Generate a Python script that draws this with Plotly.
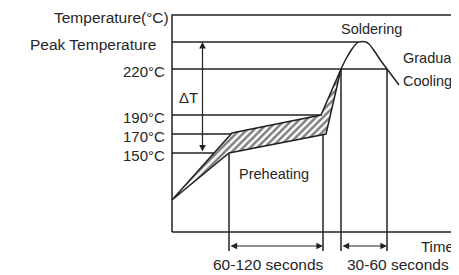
import plotly.graph_objects as go

# ---------------- data (schematic diagram units) ----------------
# x: schematic time, y: schematic temperature height; box spans 0..283 x 0..217
box_w, box_h = 283, 217

level_labels = ["150°C", "170°C", "190°C", "220°C", "Peak Temperature"]
level_y = [79, 98, 117, 163, 190]
level_x_end = [57, 60, 150, 215, 186]

# preheating band (upper / lower limit curves)
upper_x = [0, 60, 149, 169]
upper_y = [32, 99, 117, 163]
lower_x = [0, 57, 154, 169]
lower_y = [32, 79, 98, 163]

# soldering peak and gradual cooling
peak_x = [169, 174, 180, 185, 187, 194, 197, 203, 209, 215, 221, 227]
peak_y = [163, 173, 183, 189, 190, 190, 188, 180, 171, 163, 155, 147]

# time markers
mark_x = [57, 151, 169, 215]
mark_top = [79, 98, 163, 163]
mark_bottom = -19
span_y = -14
span_start = [57, 169]
span_end = [151, 215]
span_labels = ["60-120 seconds", "30-60 seconds"]
span_label_x = [96, 225.5]

# delta T arrow
dt_x = 30.5
dt_top, dt_bottom = 190, 79

LC = "#222222"
TC = "#262626"
FONT = "Liberation Sans, Arial, sans-serif"
LW = 1.5

fig = go.Figure()

def line(xs, ys, w=LW, shape="linear"):
    fig.add_trace(go.Scatter(x=xs, y=ys, mode="lines",
                             line=dict(color=LC, width=w, shape=shape),
                             hoverinfo="skip", showlegend=False))

# box
line([0, box_w, box_w, 0, 0], [0, 0, box_h, box_h, 0])

# level lines
for yv, xe in zip(level_y, level_x_end):
    line([0, xe], [yv, yv])

# time marker verticals
for xv, yt in zip(mark_x, mark_top):
    line([xv, xv], [mark_bottom, yt])

# hatched preheating band
band_x = upper_x + lower_x[::-1]
band_y = upper_y + lower_y[::-1]
fig.add_trace(go.Scatter(x=band_x, y=band_y, mode="lines", fill="toself",
                         fillcolor="white",
                         fillpattern=dict(shape="/", fgcolor="#000000", bgcolor="white",
                                          size=5, solidity=0.5),
                         line=dict(color=LC, width=LW),
                         hoverinfo="skip", showlegend=False))

# peak / cooling
line(peak_x, peak_y, shape="spline")

annos = []
def arrow(x0, y0, x1, y1):
    annos.append(dict(x=x1, y=y1, ax=x0, ay=y0, xref="x", yref="y", axref="x", ayref="y",
                      text="", showarrow=True, arrowhead=2, startarrowhead=2,
                      arrowside="end+start", arrowsize=1.1, arrowwidth=1.2,
                      arrowcolor=LC))

arrow(dt_x, dt_bottom, dt_x, dt_top)
for s, e in zip(span_start, span_end):
    arrow(s, span_y, e, span_y)

def text(t, x, y, xanchor="center", size=14.5):
    annos.append(dict(x=x, y=y, xref="x", yref="y", text=t, showarrow=False,
                      xanchor=xanchor, yanchor="middle", borderpad=0,
                      font=dict(family=FONT, size=size, color=TC)))

text("Temperature(°C)", -2, 215, "right", size=15.5)
for lab, yv in zip(level_labels, level_y):
    if lab.startswith("Peak"):
        text(lab, -15, yv - 2, "right", size=15.5)
    else:
        text(lab, -6, yv - 2, "right", size=15)
text("ΔT", 16, 135, size=15)
text("Soldering", 199, 203)
text("Gradual", 230, 174, "left")
text("Cooling", 230, 151, "left")
text("Preheating", 102, 58)
text("Time", 283, -14.5, "right", size=15)
for lx, lab in zip(span_label_x, span_labels):
    text(lab, lx, -32, size=15.5)

# page has an 8px body margin: figure occupies page pixels 8..459 x 8..275
fig.update_layout(
    width=451, height=267,
    margin=dict(l=0, r=0, t=0, b=0),
    paper_bgcolor="white", plot_bgcolor="white",
    xaxis=dict(range=[-164, 287], visible=False, fixedrange=True),
    yaxis=dict(range=[-43, 224], visible=False, fixedrange=True),
    annotations=annos,
)

fig.write_html("out.html")
